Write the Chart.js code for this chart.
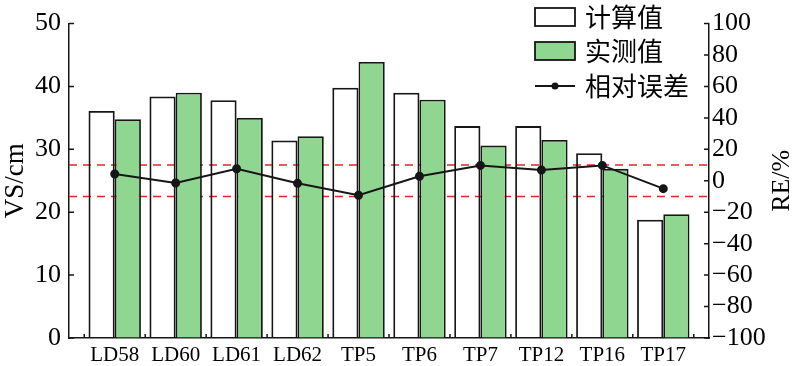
<!DOCTYPE html>
<html>
<head>
<meta charset="utf-8">
<script src="https://cdn.jsdelivr.net/npm/chart.js@4/dist/chart.umd.min.js"></script>
<style>
  html, body { margin: 0; padding: 0; background: #fff; }
  #wrap { width: 800px; height: 366px; position: relative; }
</style>
</head>
<body>
<div id="wrap"><canvas id="vs-re-chart"></canvas></div>
<script>
// data
const labels = ["LD58", "LD60", "LD61", "LD62", "TP5", "TP6", "TP7", "TP12", "TP16", "TP17"];
const calcValues = [36.1, 38.4, 37.8, 31.4, 39.8, 39.0, 33.7, 33.7, 29.4, 18.8];
const measValues = [34.8, 39.0, 35.0, 32.1, 43.9, 37.9, 30.6, 31.5, 26.9, 19.7];
const reValues = [4.3, -1.4, 7.7, -1.6, -9.2, 2.9, 9.8, 6.9, 9.8, -5.0];
const limitLines = [10, -10];   // +-10% band, on RE axis
const seriesNames = ["计算值", "实测值", "相对误差"];
const leftTitle = "VS/cm";
const rightTitle = "RE/%";

const SERIF = '"Liberation Serif", "Times New Roman", serif';
const CJK = '"Noto Sans CJK SC", "Liberation Serif", sans-serif';
const GREEN = "#8fd690";
const INK = "#161616";

function pts(arr) {
  return arr.map((v, i) => ({ x: i, y: v }));
}

// red dashed lines behind the bars
const limitPlugin = {
  id: "limitPlugin",
  beforeDatasetsDraw(chart) {
    const { ctx, chartArea: a, scales } = chart;
    ctx.save();
    ctx.strokeStyle = "#e3262b";
    ctx.lineWidth = 1.5;
    ctx.setLineDash([8, 6]);
    ctx.beginPath();
    limitLines.forEach(v => {
      const p = scales.y2.getPixelForValue(v);
      ctx.moveTo(a.left, p);
      ctx.lineTo(a.right, p);
    });
    ctx.stroke();
    ctx.restore();
  }
};

// inward tick marks, right title, legend
const decoPlugin = {
  id: "decoPlugin",
  afterDraw(chart) {
    const { ctx, chartArea: a, scales } = chart;
    ctx.save();
    ctx.strokeStyle = INK;
    ctx.lineWidth = 1.5;
    ctx.beginPath();
    scales.y.ticks.forEach(t => {
      const p = scales.y.getPixelForValue(t.value);
      ctx.moveTo(a.left, p); ctx.lineTo(a.left + 5, p);
    });
    scales.y2.ticks.forEach(t => {
      const p = scales.y2.getPixelForValue(t.value);
      ctx.moveTo(a.right, p); ctx.lineTo(a.right - 5, p);
    });
    for (let i = 0; i <= labels.length; i++) {
      const p = scales.x.getPixelForValue(i - 0.5);
      ctx.moveTo(p, a.bottom); ctx.lineTo(p, a.bottom - 4);
    }
    ctx.stroke();

    // right axis title, reading bottom to top
    ctx.fillStyle = "#000";
    ctx.font = "26px " + SERIF;
    ctx.textAlign = "center";
    ctx.textBaseline = "middle";
    ctx.translate(782, (a.top + a.bottom) / 2);
    ctx.rotate(-Math.PI / 2);
    ctx.fillText(rightTitle, 0, 0);
    ctx.setTransform(1, 0, 0, 1, 0, 0);

    // legend
    const rows = [17, 51, 86];
    const bx = 535, bw = 40, bh = 18;
    ctx.font = "26px " + CJK;
    ctx.textAlign = "left";
    chart.data.datasets.forEach((ds, i) => {
      const cy = rows[i];
      if (ds.type === "line") {
        ctx.beginPath();
        ctx.strokeStyle = INK;
        ctx.lineWidth = 2;
        ctx.moveTo(bx, cy); ctx.lineTo(bx + bw, cy);
        ctx.stroke();
        ctx.beginPath();
        ctx.fillStyle = INK;
        ctx.arc(bx + bw / 2, cy, 3.5, 0, Math.PI * 2);
        ctx.fill();
      } else {
        ctx.fillStyle = i === 0 ? "#fff" : ds.backgroundColor;
        ctx.fillRect(bx, cy - bh / 2, bw, bh);
        ctx.strokeStyle = INK;
        ctx.lineWidth = 1.8;
        ctx.strokeRect(bx, cy - bh / 2, bw, bh);
      }
      ctx.fillStyle = "#000";
      ctx.fillText(ds.label, 585, cy);
    });
    ctx.restore();
  }
};

const ctx = document.getElementById("vs-re-chart");
const myChart = new Chart(ctx, {
  type: "bar",
  data: {
    datasets: [
      {
        label: seriesNames[0],
        data: pts(calcValues),
        backgroundColor: "rgba(255,255,255,0)",
        borderColor: INK,
        borderWidth: 1.8,
        yAxisID: "y",
        order: 2
      },
      {
        label: seriesNames[1],
        data: pts(measValues),
        backgroundColor: GREEN,
        borderColor: INK,
        borderWidth: 1.8,
        yAxisID: "y",
        order: 2
      },
      {
        type: "line",
        label: seriesNames[2],
        data: pts(reValues),
        borderColor: INK,
        backgroundColor: INK,
        borderWidth: 2,
        pointRadius: 3.5,
        pointBackgroundColor: INK,
        tension: 0,
        yAxisID: "y2",
        order: 0
      }
    ]
  },
  options: {
    responsive: true,
    maintainAspectRatio: false,
    animation: false,
    categoryPercentage: 0.86,
    barPercentage: 1,
    layout: { padding: { top: 23, left: 0, right: 0, bottom: 0 } },
    plugins: { legend: { display: false }, tooltip: { enabled: false } },
    scales: {
      x: {
        type: "linear",
        offset: false,
        min: -0.75,
        max: 9.75,
        afterBuildTicks: s => { s.ticks = labels.map((_, i) => ({ value: i })); },
        afterFit: s => { s.height = 28; },
        grid: { display: true, drawOnChartArea: false, drawTicks: false },
        border: { color: INK, width: 1.5 },
        ticks: {
          autoSkip: false,
          maxRotation: 0,
          padding: 5,
          color: "#000",
          font: { family: SERIF, size: 21 },
          callback: v => labels[v]
        }
      },
      y: {
        position: "left",
        min: 0,
        max: 50,
        afterFit: s => { s.width = 69; },
        grid: { display: true, drawOnChartArea: false, drawTicks: false },
        border: { color: INK, width: 1.5 },
        ticks: { autoSkip: false, stepSize: 10, padding: 8, color: "#000", font: { family: SERIF, size: 26 } },
        title: { display: true, text: leftTitle, color: "#000", padding: 0, font: { family: SERIF, size: 27 } }
      },
      y2: {
        position: "right",
        min: -100,
        max: 100,
        afterFit: s => { s.width = 91; },
        grid: { display: true, drawOnChartArea: false, drawTicks: false },
        border: { color: INK, width: 1.5 },
        ticks: {
          autoSkip: false,
          stepSize: 20,
          padding: 3,
          color: "#000",
          font: { family: SERIF, size: 26 },
          callback: v => String(v).replace("-", "\u2212")
        }
      }
    }
  },
  plugins: [limitPlugin, decoPlugin]
});
</script>
</body>
</html>
